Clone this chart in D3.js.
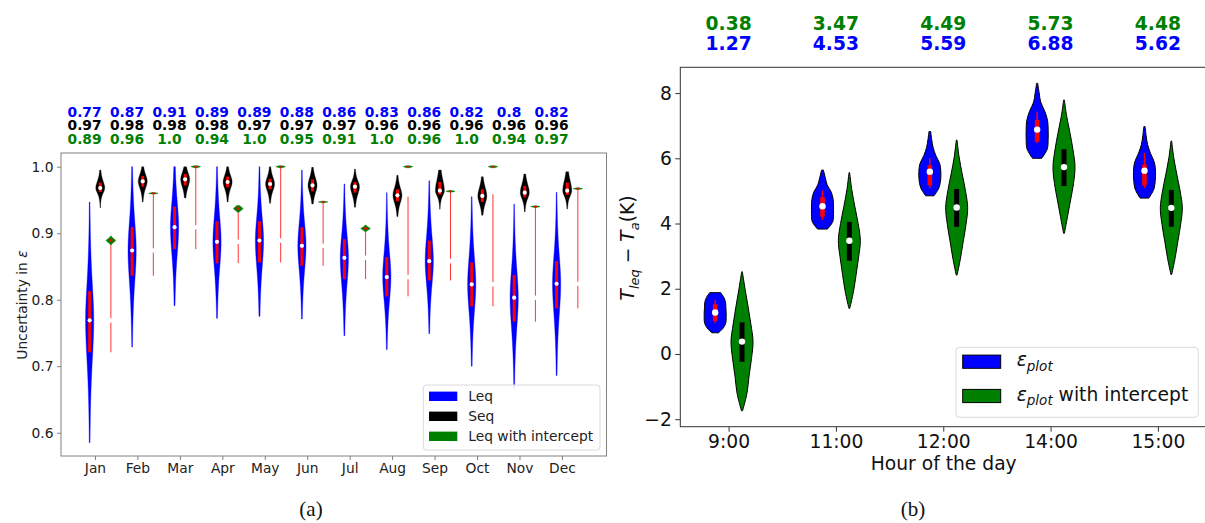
<!DOCTYPE html>
<html>
<head>
<meta charset="utf-8">
<script src="https://cdn.jsdelivr.net/npm/d3@7"></script>
<style>
  body { margin: 0; background: #fff; }
  svg { display: block; }
  text { font-family: "DejaVu Sans", sans-serif; }
</style>
</head>
<body>
<svg id="fig" width="1205" height="523"></svg>
<script>
// ---------- Panel (a): monthly uncertainty in epsilon ----------
const months = ["Jan","Feb","Mar","Apr","May","Jun","Jul","Aug","Sep","Oct","Nov","Dec"];

// Leq (blue)
const leqMin = [0.585,0.729,0.791,0.772,0.775,0.771,0.746,0.725,0.749,0.700,0.667,0.686];
const leqQ1  = [0.721,0.836,0.876,0.855,0.856,0.851,0.831,0.805,0.829,0.790,0.767,0.787];
const leqMed = [0.769,0.874,0.909,0.887,0.889,0.881,0.863,0.834,0.858,0.823,0.803,0.824];
const leqQ3  = [0.813,0.909,0.940,0.918,0.918,0.909,0.891,0.864,0.889,0.856,0.837,0.858];
const leqMax = [0.947,1.000,1.000,1.000,1.000,0.995,0.974,0.961,0.979,0.955,0.9435,0.9615];

// Seq (black)
const seqMin = [0.938,0.947,0.953,0.947,0.945,0.944,0.939,0.925,0.936,0.927,0.932,0.9365];
const seqQ1  = [0.962,0.970,0.972,0.969,0.966,0.963,0.961,0.948,0.958,0.947,0.954,0.9575];
const seqMed = [0.968,0.978,0.981,0.977,0.974,0.972,0.970,0.957,0.964,0.956,0.961,0.964];
const seqQ3  = [0.976,0.986,0.989,0.985,0.982,0.981,0.977,0.966,0.977,0.966,0.971,0.976];
const seqMax = [0.995,1.000,1.000,1.000,1.000,0.999,0.9965,0.987,0.995,0.985,0.989,0.9925];

// Leq with intercept (green)
const intMin = [0.8825,0.9588,0.9985,0.9315,0.9985,0.9458,0.9025,0.9985,0.9618,0.9985,0.9388,0.9658];
const intQ1  = [0.887,0.9595,0.9993,0.935,0.9993,0.9465,0.9055,0.9993,0.9625,0.9993,0.9395,0.9665];
const intMed = [0.889,0.960,1.000,0.937,1.000,0.947,0.907,1.000,0.963,1.000,0.940,0.967];
const intQ3  = [0.891,0.9605,1.0007,0.939,1.0007,0.9475,0.9085,1.0007,0.9635,1.0007,0.9405,0.9675];
const intMax = [0.8955,0.9612,1.0015,0.9415,1.0015,0.9482,0.912,1.0015,0.9642,1.0015,0.9412,0.9682];
// upper end of the thin red line drawn at the green position
const intLineTop = [0.882,0.960,1.000,0.931,1.000,0.947,0.902,0.955,0.9635,0.9585,0.940,0.967];

const yTicksA = [0.6,0.7,0.8,0.9,1.0];

// ---------- Panel (b): T_leq - T_a by hour ----------
const hours = ["9:00","11:00","12:00","14:00","15:00"];

const epsMin = [0.65,3.83,4.85,6.00,4.78];
const epsWLo = [0.94,4.11,5.09,6.46,5.09];
const epsQ1  = [1.01,4.21,5.17,6.51,5.17];
const epsMed = [1.27,4.53,5.59,6.88,5.62];
const epsQ3  = [1.52,4.81,5.79,7.18,5.81];
const epsWHi = [1.66,5.01,6.00,7.43,6.16];
const epsMax = [1.88,5.64,6.82,8.30,6.97];
// relative half-widths from min to max (9 evenly spaced levels)
const epsShape = [
  [0.30,0.75,0.97,1.00,1.00,0.97,0.95,0.80,0.50],
  [0.45,0.93,1.00,1.00,0.97,0.80,0.42,0.25,0.08],
  [0.38,0.83,0.98,1.00,0.90,0.55,0.30,0.17,0.08],
  [0.42,0.92,1.00,1.00,0.95,0.70,0.32,0.18,0.05],
  [0.40,0.85,0.98,1.00,0.90,0.55,0.28,0.15,0.06]
];

const intBMin = [-1.74,1.40,2.42,3.70,2.44];
const intBQ1  = [-0.24,2.86,3.90,5.15,3.90];
const intBMed = [0.38,3.47,4.49,5.73,4.48];
const intBQ3  = [0.97,4.05,5.06,6.28,5.03];
const intBMax = [2.52,5.56,6.56,7.79,6.53];
const intBShape = [
  [0.05,0.45,0.64,0.86,1.00,0.80,0.55,0.28,0.03],
  [0.04,0.38,0.62,0.84,1.00,0.80,0.50,0.22,0.03],
  [0.04,0.35,0.60,0.85,1.00,0.80,0.50,0.22,0.03],
  [0.04,0.32,0.60,0.87,1.00,0.82,0.55,0.25,0.03],
  [0.04,0.35,0.60,0.85,1.00,0.80,0.50,0.22,0.03]
];

const yTicksB = [-2,0,2,4,6,8];

// ---------- helpers ----------
const BLUE = "#0000ff", GREEN = "#008000", RED = "#ff0000";
const fmt2 = v => { let s = String(Math.round(v * 100) / 100); if (!s.includes(".")) s += ".0"; return s; };

// density outline from quartiles: split heavy-tailed bump, cut at min/max
function splitProfile(mn, q1, md, q3, mx) {
  const sLo = Math.max((md - q1) / 0.674, 1e-6);
  const sHi = Math.max((q3 - md) / 0.674, 1e-6);
  const n = 60;
  const vs = d3.range(n + 1).map(k => mn + (mx - mn) * k / n);
  vs.push(md); vs.sort((a, b) => a - b);
  const pts = vs.map(v => {
    const z = (v - md) / (v < md ? sLo : sHi);
    return { v, w: Math.pow(1 + z * z / 3, -2) };
  });
  const m = d3.max(pts, d => d.w);
  pts.forEach(d => d.w /= m);
  return pts;
}

const svg = d3.select("#fig");

// =================== Panel (a) ===================
const xA = d3.scaleLinear().domain([-0.8, 12.05]).range([61, 606.5]);
const yA = d3.scaleLinear().domain([0.565, 1.0206]).range([456, 153]);
const FS_A = 13.8;
const frameA = "#808080";

const gA = svg.append("g");

// axes
const axYA = gA.append("g").attr("transform", `translate(${xA.range()[0]},0)`)
  .call(d3.axisLeft(yA).tickValues(yTicksA).tickFormat(d3.format(".1f")).tickSize(4).tickPadding(3.5));
const axXA = gA.append("g").attr("transform", `translate(0,${yA.range()[0]})`)
  .call(d3.axisBottom(xA).tickValues(d3.range(months.length)).tickFormat(i => months[i]).tickSize(4).tickPadding(3.2));
[axYA, axXA].forEach(ax => {
  ax.select(".domain").remove();
  ax.selectAll(".tick line").attr("stroke", frameA);
  ax.selectAll(".tick text").attr("font-size", FS_A).attr("fill", "#222").style("font-family", "DejaVu Sans");
});

// frame
gA.append("rect")
  .attr("x", xA.range()[0]).attr("y", yA.range()[1])
  .attr("width", xA.range()[1] - xA.range()[0]).attr("height", yA.range()[0] - yA.range()[1])
  .attr("fill", "none").attr("stroke", frameA).attr("stroke-width", 1);

const areaA = (cx, hw) => d3.area()
  .y(d => yA(d.v)).x0(d => cx - hw * d.w).x1(d => cx + hw * d.w);

months.forEach((m, i) => {
  const xb = xA(i - 0.125), xs = xA(i + 0.125), xg = xA(i + 0.375);

  // Leq violin
  gA.append("path").datum(splitProfile(leqMin[i], leqQ1[i], leqMed[i], leqQ3[i], leqMax[i]))
    .attr("d", areaA(xb, 4.1)).attr("fill", BLUE)
    .attr("stroke", BLUE).attr("stroke-opacity", 0.35).attr("stroke-width", 1);
  gA.append("rect").attr("x", xb - 1.5).attr("width", 3)
    .attr("y", yA(leqQ3[i])).attr("height", yA(leqQ1[i]) - yA(leqQ3[i])).attr("fill", RED);
  gA.append("circle").attr("cx", xb).attr("cy", yA(leqMed[i])).attr("r", 2.1).attr("fill", "#fff");

  // Seq violin
  gA.append("path").datum(splitProfile(seqMin[i], seqQ1[i], seqMed[i], seqQ3[i], seqMax[i]))
    .attr("d", areaA(xs, 4.5)).attr("fill", "#000")
    .attr("stroke", "#000").attr("stroke-opacity", 0.3).attr("stroke-width", 1);
  gA.append("rect").attr("x", xs - 1.5).attr("width", 3)
    .attr("y", yA(seqQ3[i])).attr("height", yA(seqQ1[i]) - yA(seqQ3[i])).attr("fill", RED);
  gA.append("circle").attr("cx", xs).attr("cy", yA(seqMed[i])).attr("r", 2.1).attr("fill", "#fff");

  // thin red line at the intercept position, broken at the Leq median
  gA.append("line").attr("x1", xg).attr("x2", xg)
    .attr("y1", yA(intLineTop[i])).attr("y2", yA(leqQ1[i]))
    .attr("stroke", RED).attr("stroke-opacity", 0.8).attr("stroke-width", 1);
  gA.append("circle").attr("cx", xg).attr("cy", yA(leqMed[i])).attr("r", 2.3).attr("fill", "#fff");

  // Leq with intercept violin
  gA.append("path").datum(splitProfile(intMin[i], intQ1[i], intMed[i], intQ3[i], intMax[i]))
    .attr("d", areaA(xg, 4.6)).attr("fill", GREEN)
    .attr("stroke", GREEN).attr("stroke-opacity", 0.5).attr("stroke-width", 1);
  const hq = Math.max(yA(intQ1[i]) - yA(intQ3[i]), 1.4);
  gA.append("rect").attr("x", xg - 1.5).attr("width", 3)
    .attr("y", yA(intMed[i]) - hq / 2).attr("height", hq).attr("fill", RED);
});

// value rows above panel (a)
const rowsA = [
  { vals: leqMed, color: BLUE, y: 116.5 },
  { vals: seqMed, color: "#000", y: 130 },
  { vals: intMed, color: GREEN, y: 143.5 }
];
rowsA.forEach(r => {
  gA.append("g").selectAll("text").data(r.vals).join("text")
    .attr("x", (d, i) => xA(i - 0.245)).attr("y", r.y)
    .attr("text-anchor", "middle").attr("font-size", FS_A).attr("font-weight", "bold")
    .attr("fill", r.color).text(d => fmt2(d));
});

// y label
gA.append("text")
  .attr("transform", "translate(27,305) rotate(-90)")
  .attr("text-anchor", "middle").attr("font-size", FS_A).attr("fill", "#222")
  .call(t => {
    t.append("tspan").text("Uncertainty in ");
    t.append("tspan").attr("font-style", "italic").text("ε");
  });

// legend (a)
const legA = gA.append("g");
legA.append("rect").attr("x", 423.3).attr("y", 385).attr("width", 176.7).attr("height", 65)
  .attr("rx", 3).attr("fill", "#fff").attr("fill-opacity", 0.85).attr("stroke", "#d9d9d9");
[["Leq", BLUE], ["Seq", "#000"], ["Leq with intercept", GREEN]].forEach(([lab, col], k) => {
  const cy = 396.3 + k * 20;
  legA.append("rect").attr("x", 429).attr("y", cy - 4.7).attr("width", 28.3).attr("height", 9.4).attr("fill", col);
  legA.append("text").attr("x", 468.3).attr("y", cy + 5).attr("font-size", FS_A).attr("fill", "#222").text(lab);
});

// =================== Panel (b) ===================
const xB = d3.scaleLinear().domain([-0.45, 4.45]).range([680.3, 1206.2]);
const yB = d3.scaleLinear().domain([-2.23, 8.79]).range([426.7, 67.3]);
const FS_B = 18.7;
const frameB = "#333";
const gB = svg.append("g");

const axYB = gB.append("g").attr("transform", `translate(${xB.range()[0]},0)`)
  .call(d3.axisLeft(yB).tickValues(yTicksB).tickFormat(d3.format("d")).tickSize(5).tickPadding(3.5));
const axXB = gB.append("g").attr("transform", `translate(0,${yB.range()[0]})`)
  .call(d3.axisBottom(xB).tickValues(d3.range(hours.length)).tickFormat(i => hours[i]).tickSize(5).tickPadding(3.3));
[axYB, axXB].forEach(ax => {
  ax.select(".domain").remove();
  ax.selectAll(".tick line").attr("stroke", frameB);
  ax.selectAll(".tick text").attr("font-size", FS_B).attr("fill", "#111").style("font-family", "DejaVu Sans");
});

gB.append("rect")
  .attr("x", xB.range()[0]).attr("y", yB.range()[1])
  .attr("width", xB.range()[1] - xB.range()[0]).attr("height", yB.range()[0] - yB.range()[1])
  .attr("fill", "none").attr("stroke", frameB).attr("stroke-width", 1);

const HW_B = 11;
const shapePts = (mn, mx, w) => w.map((s, k) => ({ v: mn + (mx - mn) * k / (w.length - 1), w: s }));
const areaB = cx => d3.area().y(d => yB(d.v)).x0(d => cx - HW_B * d.w).x1(d => cx + HW_B * d.w)
  .curve(d3.curveCatmullRom);

hours.forEach((h, i) => {
  const xe = xB(i - 0.125), xi = xB(i + 0.125);

  // epsilon_plot violin
  gB.append("path").datum(shapePts(epsMin[i], epsMax[i], epsShape[i]))
    .attr("d", areaB(xe)).attr("fill", BLUE).attr("stroke", "#000").attr("stroke-width", 1);
  gB.append("line").attr("x1", xe).attr("x2", xe).attr("y1", yB(epsWHi[i])).attr("y2", yB(epsWLo[i]))
    .attr("stroke", RED).attr("stroke-width", 1.5);
  gB.append("rect").attr("x", xe - 2.3).attr("width", 4.6)
    .attr("y", yB(epsQ3[i])).attr("height", yB(epsQ1[i]) - yB(epsQ3[i])).attr("fill", RED);
  gB.append("circle").attr("cx", xe).attr("cy", yB(epsMed[i])).attr("r", 3.2).attr("fill", "#fff");

  // epsilon_plot with intercept violin
  gB.append("path").datum(shapePts(intBMin[i], intBMax[i], intBShape[i]))
    .attr("d", areaB(xi)).attr("fill", GREEN).attr("stroke", "#000").attr("stroke-width", 1);
  gB.append("rect").attr("x", xi - 2.5).attr("width", 5)
    .attr("y", yB(intBQ3[i])).attr("height", yB(intBQ1[i]) - yB(intBQ3[i])).attr("fill", "#000");
  gB.append("circle").attr("cx", xi).attr("cy", yB(intBMed[i])).attr("r", 3.2).attr("fill", "#fff");
});

// value rows above panel (b)
[{ vals: intBMed, color: GREEN, y: 29.5 }, { vals: epsMed, color: BLUE, y: 49.5 }].forEach(r => {
  gB.append("g").selectAll("text").data(r.vals).join("text")
    .attr("x", (d, i) => xB(i)).attr("y", r.y)
    .attr("text-anchor", "middle").attr("font-size", FS_B).attr("font-weight", "bold")
    .attr("fill", r.color).text(d => d.toFixed(2));
});

// axis titles (b)
gB.append("text").attr("x", 943.7).attr("y", 469.5).attr("text-anchor", "middle")
  .attr("font-size", FS_B).attr("fill", "#111").text("Hour of the day");

gB.append("text")
  .attr("transform", "translate(634,248) rotate(-90)")
  .attr("text-anchor", "middle").attr("font-size", FS_B).attr("fill", "#111")
  .call(t => {
    t.append("tspan").attr("font-style", "italic").text("T");
    t.append("tspan").attr("font-style", "italic").attr("font-size", 13).attr("dy", 4.5).text("leq");
    t.append("tspan").attr("dy", -4.5).text(" − ");
    t.append("tspan").attr("font-style", "italic").text("T");
    t.append("tspan").attr("font-style", "italic").attr("font-size", 13).attr("dy", 4.5).text("a");
    t.append("tspan").attr("dy", -4.5).text("(K)");
  });

// legend (b)
const legB = gB.append("g");
legB.append("rect").attr("x", 956).attr("y", 347.3).attr("width", 242.3).attr("height", 70)
  .attr("rx", 3.5).attr("fill", "#fff").attr("fill-opacity", 0.85).attr("stroke", "#d9d9d9");
[[BLUE, ""], [GREEN, " with intercept"]].forEach(([col, tail], k) => {
  const cy = 361.7 + k * 34.3;
  legB.append("rect").attr("x", 962.7).attr("y", cy - 6.6).attr("width", 38).attr("height", 13.2)
    .attr("fill", col).attr("stroke", "#000").attr("stroke-width", 1);
  legB.append("text").attr("x", 1016.7).attr("y", cy + 4.5).attr("font-size", FS_B).attr("fill", "#111")
    .call(t => {
      t.append("tspan").attr("font-style", "italic").text("ε");
      t.append("tspan").attr("font-style", "italic").attr("font-size", 13.5).attr("dy", 4.5).text("plot");
      if (tail) t.append("tspan").attr("dy", -4.5).text(tail);
    });
});

// panel captions
svg.append("text").attr("x", 311).attr("y", 516).attr("text-anchor", "middle")
  .attr("font-size", 21).style("font-family", "Liberation Serif, serif").attr("fill", "#111").text("(a)");
svg.append("text").attr("x", 913).attr("y", 516).attr("text-anchor", "middle")
  .attr("font-size", 21).style("font-family", "Liberation Serif, serif").attr("fill", "#111").text("(b)");
</script>
</body>
</html>
